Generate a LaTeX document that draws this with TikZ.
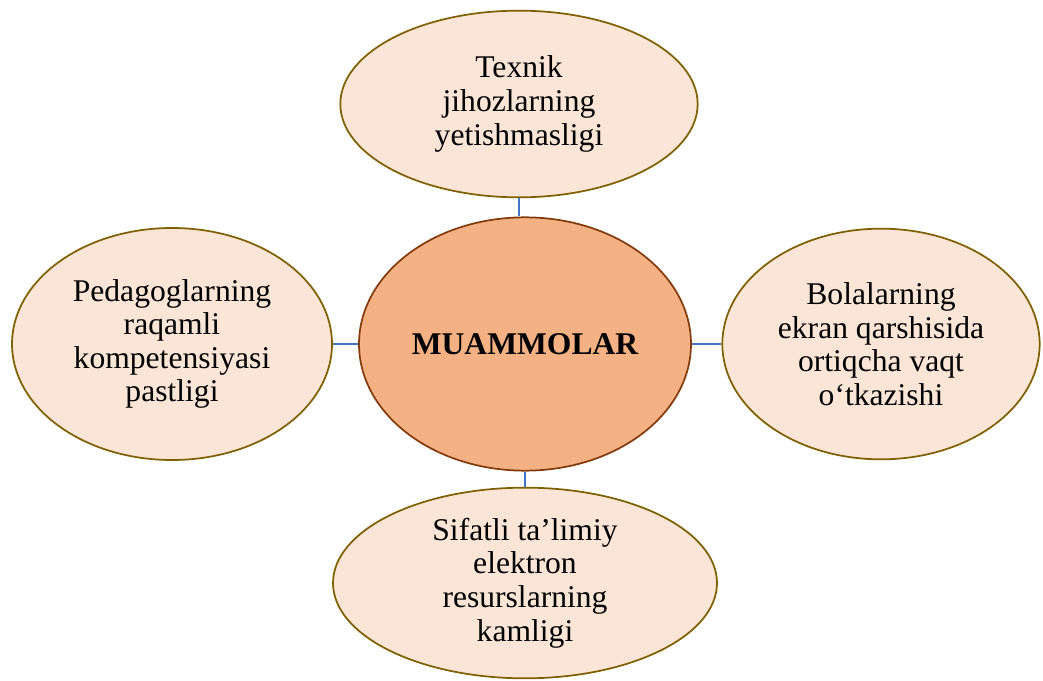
\documentclass[tikz,border=0pt]{standalone}
\usepackage{fontspec}
\setmainfont{Liberation Serif}
\usetikzlibrary{shapes.geometric}

\definecolor{peach}{HTML}{FBE5D6}
\definecolor{olive}{HTML}{7F6000}
\definecolor{apricot}{HTML}{F4B183}
\definecolor{rust}{HTML}{843C0C}
\definecolor{link}{HTML}{4472C4}

\begin{document}
\begin{tikzpicture}
	[
		x=0.75pt, y=-0.75pt,
		cause/.style={ellipse, draw=olive, line width=1.3pt, fill=peach, align=center, inner sep=0pt, font=\fontsize{23.7}{25.2}\selectfont},
		problem/.style={ellipse, draw=rust, line width=1.3pt, fill=apricot, align=center, inner sep=0pt, font=\fontsize{23.7}{25.2}\selectfont\bfseries},
		link/.style={draw=link, line width=1.3pt}
	]

	\useasboundingbox (0,0) rectangle (1043,681);

		\path (525,344) node
		[problem, minimum width=249pt, minimum height=190pt]
		(problem00)
		{MUAMMOLAR};

		\path (519,104) node
		[cause, minimum width=268pt, minimum height=140pt]
		(cause00)
		{Texnik\\jihozlarning\\yetishmasligi};

		\path (172,344) node
		[cause, minimum width=240pt, minimum height=174pt]
		(cause01)
		{Pedagoglarning\\raqamli\\kompetensiyasi\\pastligi};

		\path (881,344) node
		[cause, minimum width=238pt, minimum height=173pt]
		(cause02)
		{Bolalarning\\ekran qarshisida\\ortiqcha vaqt\\o‘tkazishi};

		\path (525,583) node
		[cause, minimum width=288pt, minimum height=143pt]
		(cause03)
		{Sifatli ta’limiy\\elektron\\resurslarning\\kamligi};

		\path
		[link]
		(cause00.south) edge (cause00.south |- problem00.north)
		(problem00.south) edge (cause03.north)
		(cause01.east) edge (problem00.west)
		(problem00.east) edge (cause02.west);

\end{tikzpicture}
\end{document}
